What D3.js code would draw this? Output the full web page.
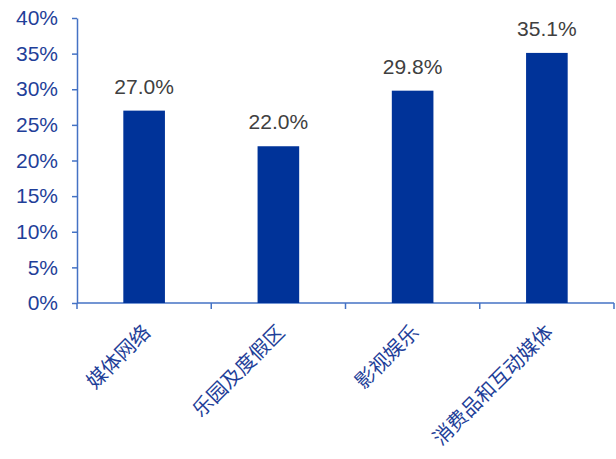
<!DOCTYPE html>
<html>
<head>
<meta charset="utf-8">
<script src="https://cdn.jsdelivr.net/npm/d3@7"></script>
<style>
  body { margin: 0; background: #fff; }
</style>
</head>
<body>
<div id="chart"></div>
<script>
const categories = ["媒体网络", "乐园及度假区", "影视娱乐", "消费品和互动媒体"];
const values = [27.0, 22.0, 29.8, 35.1];
const yTicks = [0, 5, 10, 15, 20, 25, 30, 35, 40];

const margin = { top: 18, right: 2, bottom: 156, left: 77 },
  width = 616 - margin.left - margin.right,
  height = 459 - margin.top - margin.bottom;

const axisColor = "#4472C4",
  labelColor = "#1F3F99",
  barColor = "#003399";

let svg = d3.select("#chart")
  .append("svg")
  .attr("width", 616)
  .attr("height", 459)
  .append("g")
  .attr("transform", "translate(" + margin.left + "," + margin.top + ")");

// Scales

let x = d3.scaleBand()
  .domain(categories)
  .range([0, width])
  .padding(0);

let y = d3.scaleLinear()
  .domain([0, 40])
  .range([height, 0]);

const barWidth = x.bandwidth() * 0.31;

// Axes

let yAxis = svg.append("g")
  .call(d3.axisLeft(y).tickValues(yTicks).tickSize(5).tickSizeOuter(0).tickFormat(d => d + "%"));

yAxis.select(".domain").attr("stroke", axisColor).attr("stroke-width", 1.5);
yAxis.selectAll(".tick line").attr("stroke", axisColor).attr("stroke-width", 1.5);
yAxis.selectAll(".tick text")
  .attr("x", -19)
  .style("font-family", "'Liberation Sans', Arial, sans-serif")
  .style("font-size", "21px")
  .attr("fill", labelColor);

// x axis: ticks at the band boundaries
let xAxis = svg.append("g")
  .attr("transform", "translate(0," + height + ")");

xAxis.append("line")
  .attr("x1", 0).attr("x2", width)
  .attr("stroke", axisColor).attr("stroke-width", 1.5);

xAxis.selectAll(".xtick")
  .data(categories.map(c => x(c)).concat([width]))
  .enter()
  .append("line")
  .attr("x1", d => d).attr("x2", d => d)
  .attr("y1", 0).attr("y2", 6)
  .attr("stroke", axisColor).attr("stroke-width", 1.5);

xAxis.selectAll(".xlabel")
  .data(categories)
  .enter()
  .append("text")
  .attr("transform", d => "translate(" + (x(d) + x.bandwidth() / 2 - 1) + "," + 22 + ") rotate(-45)")
  .attr("text-anchor", "end")
  .attr("dy", "0.6em")
  .style("font-family", "'Noto Sans CJK SC', sans-serif")
  .style("font-size", "20px")
  .style("font-weight", 400)
  .attr("fill", labelColor)
  .text(d => d);

// Bars

svg.selectAll(".bar")
  .data(values)
  .enter()
  .append("rect")
  .attr("x", (d, i) => x(categories[i]) + x.bandwidth() / 2 - barWidth / 2)
  .attr("y", d => y(d))
  .attr("width", barWidth)
  .attr("height", d => height - y(d))
  .attr("fill", barColor);

// Value labels

svg.selectAll(".value")
  .data(values)
  .enter()
  .append("text")
  .attr("x", (d, i) => x(categories[i]) + x.bandwidth() / 2)
  .attr("y", d => y(d) - 17)
  .attr("text-anchor", "middle")
  .style("font-family", "'Liberation Sans', Arial, sans-serif")
  .style("font-size", "21px")
  .attr("fill", "#404040")
  .text(d => d.toFixed(1) + "%");
</script>
</body>
</html>
